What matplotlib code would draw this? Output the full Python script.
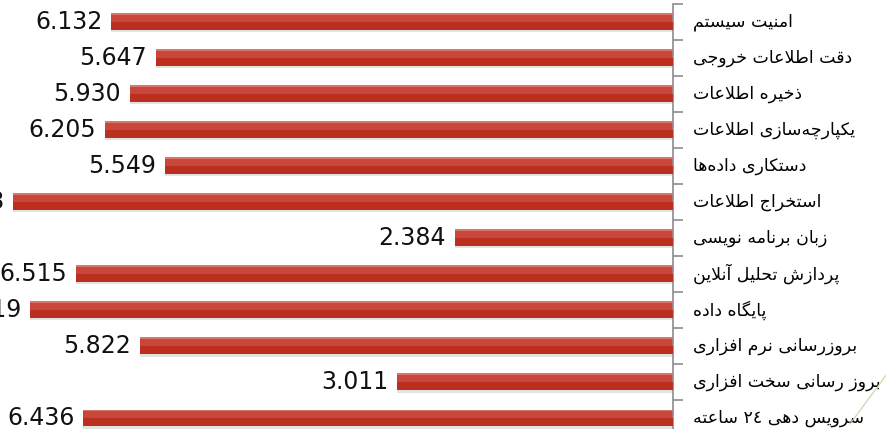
import numpy as np
import matplotlib
matplotlib.use("Agg")
import matplotlib.pyplot as plt
from matplotlib.lines import Line2D

# data, top row first
categories = [
    "امنیت سیستم",
    "دقت اطلاعات خروجی",
    "ذخیره اطلاعات",
    "یکپارچه\u200cسازی اطلاعات",
    "دستکاری داده\u200cها",
    "استخراج اطلاعات",
    "زبان برنامه نویسی",
    "پردازش تحلیل آنلاین",
    "پایگاه داده",
    "بروزرسانی نرم افزاری",
    "بروز رسانی سخت افزاری",
    "سرویس دهی \u0662\u0664 ساعته",
]
values = [6.132, 5.647, 5.930, 6.205, 5.549, 7.203, 2.384, 6.515, 7.019, 5.822, 3.011, 6.436]
value_labels = ["%.3f" % v for v in values]

# --- minimal arabic/persian shaping (matplotlib has no shaping / bidi) ---
# letter: (isolated, final, initial, medial); right-joining letters have 2 forms
FORMS = {
    "\u0627": (0xFE8D, 0xFE8E), "\u0622": (0xFE81, 0xFE82),
    "\u062F": (0xFEA9, 0xFEAA), "\u0630": (0xFEAB, 0xFEAC),
    "\u0631": (0xFEAD, 0xFEAE), "\u0632": (0xFEAF, 0xFEB0),
    "\u0648": (0xFEED, 0xFEEE), "\u0698": (0xFB8A, 0xFB8B),
    "\u0628": (0xFE8F, 0xFE90, 0xFE91, 0xFE92),
    "\u067E": (0xFB56, 0xFB57, 0xFB58, 0xFB59),
    "\u062A": (0xFE95, 0xFE96, 0xFE97, 0xFE98),
    "\u062C": (0xFE9D, 0xFE9E, 0xFE9F, 0xFEA0),
    "\u0686": (0xFB7A, 0xFB7B, 0xFB7C, 0xFB7D),
    "\u062D": (0xFEA1, 0xFEA2, 0xFEA3, 0xFEA4),
    "\u062E": (0xFEA5, 0xFEA6, 0xFEA7, 0xFEA8),
    "\u0633": (0xFEB1, 0xFEB2, 0xFEB3, 0xFEB4),
    "\u0634": (0xFEB5, 0xFEB6, 0xFEB7, 0xFEB8),
    "\u0637": (0xFEC1, 0xFEC2, 0xFEC3, 0xFEC4),
    "\u0639": (0xFEC9, 0xFECA, 0xFECB, 0xFECC),
    "\u0641": (0xFED1, 0xFED2, 0xFED3, 0xFED4),
    "\u0642": (0xFED5, 0xFED6, 0xFED7, 0xFED8),
    "\u06A9": (0xFB8E, 0xFB8F, 0xFB90, 0xFB91),
    "\u06AF": (0xFB92, 0xFB93, 0xFB94, 0xFB95),
    "\u0644": (0xFEDD, 0xFEDE, 0xFEDF, 0xFEE0),
    "\u0645": (0xFEE1, 0xFEE2, 0xFEE3, 0xFEE4),
    "\u0646": (0xFEE5, 0xFEE6, 0xFEE7, 0xFEE8),
    "\u0647": (0xFEE9, 0xFEEA, 0xFEEB, 0xFEEC),
    "\u06CC": (0xFBFC, 0xFBFD, 0xFBFE, 0xFBFF),
}
LAM_ALEF = {"\u0627": (0xFEFB, 0xFEFC), "\u0622": (0xFEF5, 0xFEF6)}


def dual(c):
    return c in FORMS and len(FORMS[c]) == 4


def shape(text):
    # lam + alef ligatures first
    chars = []
    i = 0
    while i < len(text):
        c = text[i]
        if c == "\u0644" and i + 1 < len(text) and text[i + 1] in LAM_ALEF:
            chars.append(("LA", text[i + 1]))
            i += 2
        else:
            chars.append((c, None))
            i += 1
    out = []
    for k, (c, extra) in enumerate(chars):
        prev = chars[k - 1][0] if k > 0 else None
        nxt = chars[k + 1][0] if k + 1 < len(chars) else None
        join_prev = prev is not None and dual(prev) and (c in FORMS or c == "LA")
        if c == "LA":
            out.append(chr(LAM_ALEF[extra][1 if join_prev else 0]))
            continue
        if c not in FORMS:
            if c != "\u200c":
                out.append(c)
            continue
        f = FORMS[c]
        join_next = dual(c) and nxt is not None and (nxt in FORMS or nxt == "LA")
        if join_prev and join_next:
            out.append(chr(f[3]))
        elif join_prev:
            out.append(chr(f[1]))
        elif join_next:
            out.append(chr(f[2]))
        else:
            out.append(chr(f[0]))
    vis = "".join(out)[::-1]
    # keep digit runs left to right
    res, run = [], []
    for ch in vis:
        if ch.isdigit():
            run.append(ch)
        else:
            res.extend(run[::-1])
            run = []
            res.append(ch)
    res.extend(run[::-1])
    return "".join(res)


fig = plt.figure(figsize=(8.86, 4.29), dpi=100)
ax = fig.add_axes([0.0, 1 - 436 / 429, 673 / 886, 432.5 / 429])

y = np.arange(len(categories))
h = 0.47
# soft shadow, main bar, lower darker half and top highlight
ax.barh(y + 0.06, values, height=h, color="#e2e2e2", zorder=1)
ax.barh(y, values, height=h, color="#c9463a", zorder=2)
ax.barh(y + h / 4, values, height=h / 2, color="#bb2e20", zorder=3)
ax.barh(y - h / 2 + 0.025, values, height=0.05, color="#d9776d", zorder=4)

ax.set_xlim(673 / 91.6, 0)
ax.set_ylim(len(categories) - 0.5, -0.5)

for yi, v, lab in zip(y, values, value_labels):
    ax.annotate(lab, xy=(v, yi), xytext=(-9, 0), textcoords="offset pixels",
                ha="right", va="center", fontsize=17, color="#111111")

for yi, cat in zip(y, categories):
    ax.annotate(shape(cat), xy=(0, yi), xytext=(20, 0), textcoords="offset pixels",
                ha="left", va="center", fontsize=12.5, color="black",
                family="DejaVu Sans", annotation_clip=False)

for s in ["top", "left", "bottom"]:
    ax.spines[s].set_visible(False)
ax.spines["right"].set_color("#8c8c8c")
ax.spines["right"].set_linewidth(1.2)
ax.set_xticks([])
ax.yaxis.tick_right()
ax.set_yticks(np.arange(len(categories) + 1) - 0.5)
ax.set_yticklabels([])
ax.tick_params(axis="y", direction="out", length=7, width=1.2, color="#8c8c8c")

# faint stray line seen in the lower right corner
fig.add_artist(Line2D([887 / 886, 850 / 886], [1 - 374 / 429, 1 - 424 / 429],
                      color="#b7d9a8", lw=0.8))

fig.savefig("out.png", dpi=100)
